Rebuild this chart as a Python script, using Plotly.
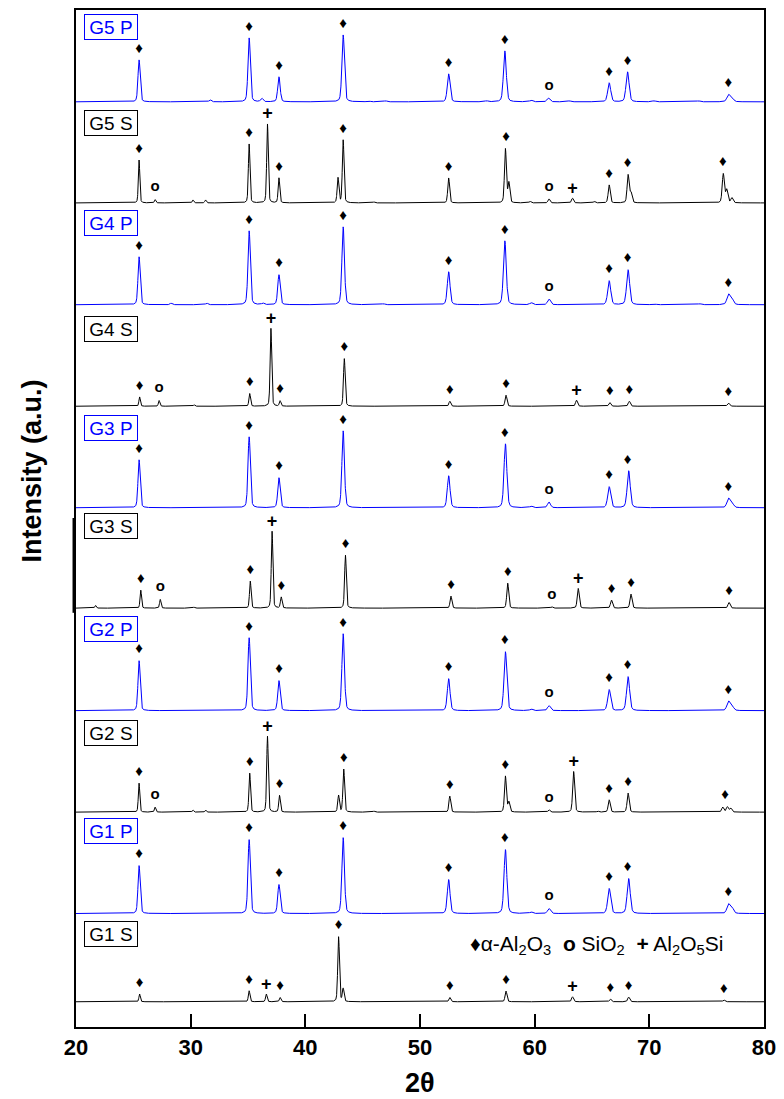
import numpy as np
import plotly.graph_objects as go

# ---------------- data ----------------
labels = ["G1 S", "G1 P", "G2 S", "G2 P", "G3 S", "G3 P", "G4 S", "G4 P", "G5 S", "G5 P"]

# peak positions (2theta) and peak heights (a.u.) for every pattern
G1S_pos = [25.55, 35.1, 36.6, 37.8, 42.9, 43.3, 52.6, 57.5, 63.3, 66.6, 68.2, 76.5]
G1S_hgt = [7.7, 11, 7.7, 4.3, 65, 13, 4.3, 10.7, 5, 2.7, 4.7, 1.7]

G1P_pos = [25.5, 35.1, 37.7, 43.3, 52.5, 57.45, 59.7, 61.25, 66.5, 68.2, 76.9, 77.2]
G1P_hgt = [48, 74, 29, 76, 34, 64, 1.5, 5, 25, 35, 9, 6]

G2S_pos = [25.5, 26.9, 30.2, 31.3, 35.15, 36.7, 37.75, 42.9, 43.35, 46.0, 52.6, 57.45, 57.75,
           61.25, 63.4, 65.5, 66.5, 68.15, 76.4, 76.8, 77.1]
G2S_hgt = [29, 5, 2, 2, 39, 76, 16.7, 16.7, 43, 1, 16, 36, 10,
           2.3, 40.7, 1, 12.3, 19, 5, 5.3, 4]

G2P_pos = [25.5, 35.1, 37.7, 43.3, 52.5, 57.45, 59.7, 61.25, 66.5, 68.15, 76.9, 77.2]
G2P_hgt = [50, 73, 30, 77, 32, 59, 1.5, 5, 21, 34, 9, 5]

G3S_pos = [21.7, 25.65, 27.35, 30.3, 35.2, 37.1, 37.9, 43.5, 52.7, 57.65, 61.5, 63.8, 66.7, 68.4, 76.95]
G3S_hgt = [2.7, 18, 8.7, 1, 27, 77, 11, 53, 12, 25, 1.3, 19.7, 8, 14, 5.7]

G3P_pos = [25.5, 35.1, 37.7, 43.3, 52.5, 57.45, 59.7, 61.25, 66.5, 68.2, 76.9, 77.2]
G3P_hgt = [48, 71, 30, 77, 32, 64, 1.5, 5.7, 21, 37, 9, 5]

G4S_pos = [25.55, 27.25, 30.3, 35.15, 37.0, 37.8, 43.4, 52.6, 57.5, 63.65, 66.55, 68.25, 76.9]
G4S_hgt = [9.3, 5.7, 1.5, 12.7, 78, 5.3, 47.7, 5, 11, 6, 3.7, 5, 3.3]

G4P_pos = [25.5, 28.3, 31.4, 35.1, 36.3, 37.7, 43.3, 46.8, 52.5, 57.4, 59.7, 61.25, 66.5, 68.15,
           70.4, 74.4, 76.9, 77.2]
G4P_hgt = [48, 1.5, 1.5, 74, 1.5, 30, 78, 1, 33, 64, 2, 5.7, 24, 35, 1, 1, 10, 6]

G5S_pos = [25.5, 26.9, 30.2, 31.3, 35.1, 36.7, 37.7, 42.85, 43.3, 46.0, 52.5, 57.45, 57.75, 59.6,
           61.25, 63.3, 65.2, 66.5, 68.15, 68.4, 76.45, 76.75, 77.2]
G5S_hgt = [43, 3.3, 3, 3, 59, 79, 25, 25, 63, 1, 25, 54, 20, 1.5,
           4, 4.7, 1.5, 18, 28, 10, 29, 13, 5]

G5P_pos = [25.5, 31.7, 35.1, 36.2, 37.7, 43.3, 45.5, 47.0, 52.5, 55.8, 57.4, 59.7, 61.2, 63.0,
           66.5, 68.1, 70.4, 74.3, 76.9, 77.2]
G5P_hgt = [42, 2, 64, 3.5, 25, 67, 1, 1, 28, 1, 51, 1.5, 3.7, 1,
           19, 30, 1, 1, 7, 4]

# phase markers: positions (2theta) of the labelled reflections
P_dia = [25.5, 35.1, 37.7, 43.3, 52.5, 57.4, 66.5, 68.1, 76.9]
P_o = [61.25]
G1S_dia = [25.55, 35.1, 37.8, 42.9, 52.6, 57.5, 66.6, 68.2, 76.5]
G1S_o = []
G1S_plus = [36.6, 63.3]
G2S_dia = [25.5, 35.15, 37.75, 43.35, 52.6, 57.45, 66.5, 68.15, 76.6]
G2S_o = [26.9, 61.25]
G2S_plus = [36.7, 63.4]
G3S_dia = [25.65, 35.2, 37.9, 43.5, 52.7, 57.65, 66.7, 68.4, 76.95]
G3S_o = [27.35, 61.5]
G3S_plus = [37.1, 63.8]
G4S_dia = [25.55, 35.15, 37.8, 43.4, 52.6, 57.5, 66.55, 68.25, 76.9]
G4S_o = [27.25]
G4S_plus = [37.0, 63.65]
G5S_dia = [25.5, 35.1, 37.7, 43.3, 52.5, 57.5, 66.5, 68.1, 76.4]
G5S_o = [26.9, 61.25]
G5S_plus = [36.7, 63.3]

x_ticks = [20, 30, 40, 50, 60, 70, 80]

# ---------------- layout / style ----------------
offsets = [25.3, 113.7, 215.3, 317, 419.7, 520.3, 622, 723.7, 825.7, 927]
label_y = [93, 196.5, 294.5, 398.5, 502, 600, 699.5, 805.5, 905.5, 1002]
BLUE = "#0000ff"
BLACK = "#000000"
FONT = "Liberation Sans, Arial, sans-serif"

patterns = [
    (G1S_pos, G1S_hgt, G1S_dia, G1S_o, G1S_plus),
    (G1P_pos, G1P_hgt, P_dia, P_o, []),
    (G2S_pos, G2S_hgt, G2S_dia, G2S_o, G2S_plus),
    (G2P_pos, G2P_hgt, P_dia, P_o, []),
    (G3S_pos, G3S_hgt, G3S_dia, G3S_o, G3S_plus),
    (G3P_pos, G3P_hgt, P_dia, P_o, []),
    (G4S_pos, G4S_hgt, G4S_dia, G4S_o, G4S_plus),
    (G4P_pos, G4P_hgt, P_dia, P_o, []),
    (G5S_pos, G5S_hgt, G5S_dia, G5S_o, G5S_plus),
    (G5P_pos, G5P_hgt, P_dia, P_o, []),
]

x = np.arange(20.0, 80.0001, 0.01)


def profile(pos, hgt, w0):
    y = np.zeros_like(x)
    for p, h in zip(pos, hgt):
        w = w0 * (1 + 0.6 * (p - 20) / 60)
        d = (x - p) / w
        y += h * (0.7 * np.exp(-4 * np.log(2) * d * d) + 0.3 / (1 + 4 * d * d))
    return y


fig = go.Figure()
for i, (lab, (pos, hgt, dia, oo, pl)) in enumerate(zip(labels, patterns)):
    is_p = lab.endswith("P")
    col = BLUE if is_p else BLACK
    y = profile(pos, hgt, 0.21 if is_p else 0.14) + offsets[i]
    fig.add_trace(go.Scatter(x=x, y=y, mode="lines", line=dict(color=col, width=1),
                             hoverinfo="skip"))

    def top(xx):
        m = (x > xx - 0.3) & (x < xx + 0.3)
        return y[m].max()

    for xs, sym, off, size, wt in ((dia, "\u2666", 11, 15, "normal"),
                                   (oo, "o", 12, 15, "bold"),
                                   (pl, "+", 9, 18, "bold")):
        if not xs:
            continue
        fig.add_trace(go.Scatter(
            x=xs, y=[top(v) + off for v in xs], mode="text", text=[sym] * len(xs),
            textposition="middle center",
            textfont=dict(family=FONT, size=size, color="black", weight=wt),
            hoverinfo="skip"))

    fig.add_annotation(
        x=(84 - 76) / 693, xref="paper", y=label_y[i], yref="y", xanchor="left", yanchor="middle",
        text=lab, showarrow=False, font=dict(family=FONT, size=19, color=col),
        bordercolor=col, borderwidth=1, borderpad=1, width=50, height=22, bgcolor="white")

fig.add_annotation(
    x=(600 - 76) / 693, xref="paper", y=82, yref="y", xanchor="center", yanchor="middle",
    text="\u2666\u03b1-Al<sub>2</sub>O<sub>3</sub>  <b>o</b> SiO<sub>2</sub>  <b>+</b> Al<sub>2</sub>O<sub>5</sub>Si",
    showarrow=False, font=dict(family=FONT, size=21, color="black"))

fig.add_annotation(
    x=0.5, xref="paper", y=(1027 - 1083) / 1019, yref="paper", xanchor="center", yanchor="middle",
    text="2\u03b8", showarrow=False, font=dict(family=FONT, size=27, color="black", weight="bold"))

fig.add_annotation(
    x=(32 - 76) / 693, xref="paper", y=(1027 - 470) / 1019, yref="paper", xanchor="center",
    yanchor="middle", text="Intensity (a.u.)", textangle=-90, showarrow=False,
    font=dict(family=FONT, size=27, color="black", weight="bold"))

# slight offset of the left frame next to the "G3 S" pattern (stitched panel)
fig.add_shape(type="line", xref="paper", yref="paper",
              x0=(73.5 - 76) / 693, x1=(73.5 - 76) / 693,
              y0=(1027 - 612) / 1019, y1=(1027 - 517) / 1019,
              line=dict(color="black", width=2))

fig.update_layout(
    width=784, height=1099, margin=dict(l=76, r=15, t=8, b=72),
    plot_bgcolor="white", paper_bgcolor="white", showlegend=False,
    xaxis=dict(range=[20, 80], tickvals=x_ticks, ticks="inside", ticklen=13, tickwidth=2,
               tickcolor="black", showline=True, linewidth=2, linecolor="black", mirror=True,
               showgrid=False, zeroline=False,
               tickfont=dict(family=FONT, size=22, color="black", weight="bold")),
    yaxis=dict(range=[0, 1019], showline=True, linewidth=2, linecolor="black", mirror=True,
               showticklabels=False, ticks="", showgrid=False, zeroline=False),
)

fig.write_html("out.html")
